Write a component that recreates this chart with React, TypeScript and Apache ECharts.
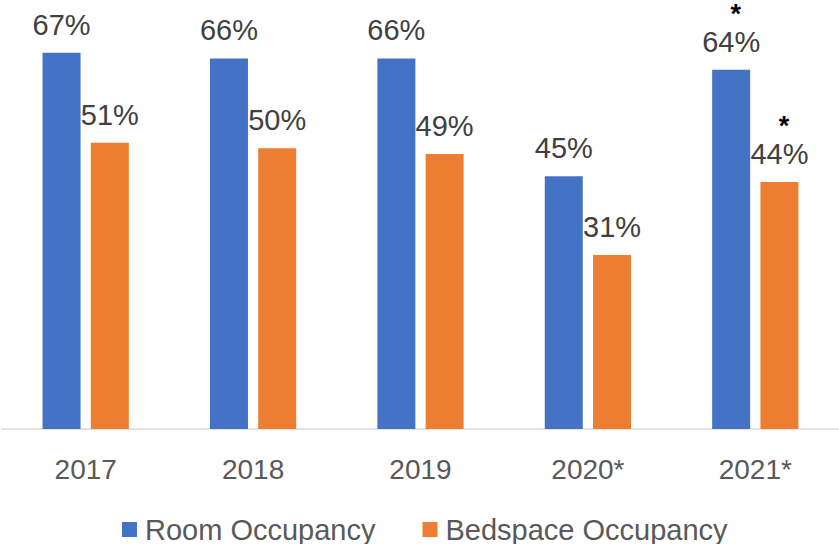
import React, { useEffect, useRef } from "react";
import * as echarts from "echarts";

const categories = ["2017", "2018", "2019", "2020*", "2021*"];
const roomOccupancy = [67, 66, 66, 45, 64];
const bedspaceOccupancy = [51, 50, 49, 31, 44];
const flagged = [false, false, false, false, true];
const seriesNames = ["Room Occupancy", "Bedspace Occupancy"];

const FONT = "'Liberation Sans', Arial, sans-serif";

export default function App() {
  const ref = useRef<HTMLDivElement>(null);
  useEffect(() => {
    if (!ref.current) return;
    const chart = echarts.init(ref.current, undefined, { renderer: "svg" });
    const label = {
      show: true,
      position: "top",
      distance: 13,
      formatter: (p: any) =>
        flagged[p.dataIndex] ? `{s|*}\n{v|${p.value}%}` : `{v|${p.value}%}`,
      rich: {
        s: {
          fontSize: 27,
          fontWeight: "bold",
          color: "#000",
          fontFamily: FONT,
          lineHeight: 26,
          padding: [0, 0, 0, 9],
        },
        v: {
          fontSize: 29,
          color: "#404040",
          fontFamily: FONT,
          lineHeight: 30,
        },
      },
    };
    chart.setOption({
      animation: false,
      grid: { left: 2, right: 0, top: 36, bottom: 115, containLabel: false },
      legend: {
        left: 122,
        top: 515,
        padding: 0,
        itemWidth: 15,
        itemHeight: 15,
        itemGap: 47,
        icon: "rect",
        textStyle: {
          fontSize: 29,
          color: "#595959",
          fontFamily: FONT,
          padding: [0, 0, 0, 3],
        },
        data: seriesNames,
      },
      xAxis: {
        type: "category",
        data: categories,
        axisLine: { show: true, lineStyle: { color: "#d9d9d9", width: 1.5 } },
        axisTick: { show: false },
        axisLabel: {
          fontSize: 28,
          color: "#595959",
          fontFamily: FONT,
          margin: 26,
        },
      },
      yAxis: {
        type: "value",
        min: 0,
        max: 70,
        show: false,
        splitLine: { show: false },
      },
      series: [
        {
          name: seriesNames[0],
          type: "bar",
          data: roomOccupancy,
          barWidth: 38,
          barGap: "27%",
          itemStyle: { color: "#4472C4" },
          label,
        },
        {
          name: seriesNames[1],
          type: "bar",
          data: bedspaceOccupancy,
          barWidth: 38,
          barGap: "27%",
          itemStyle: { color: "#ED7D31" },
          label,
        },
      ],
    });
    return () => chart.dispose();
  }, []);
  return (
    <div
      ref={ref}
      style={{ position: "fixed", left: 0, top: 0, width: 839, height: 544, background: "#fff" }}
    />
  );
}
